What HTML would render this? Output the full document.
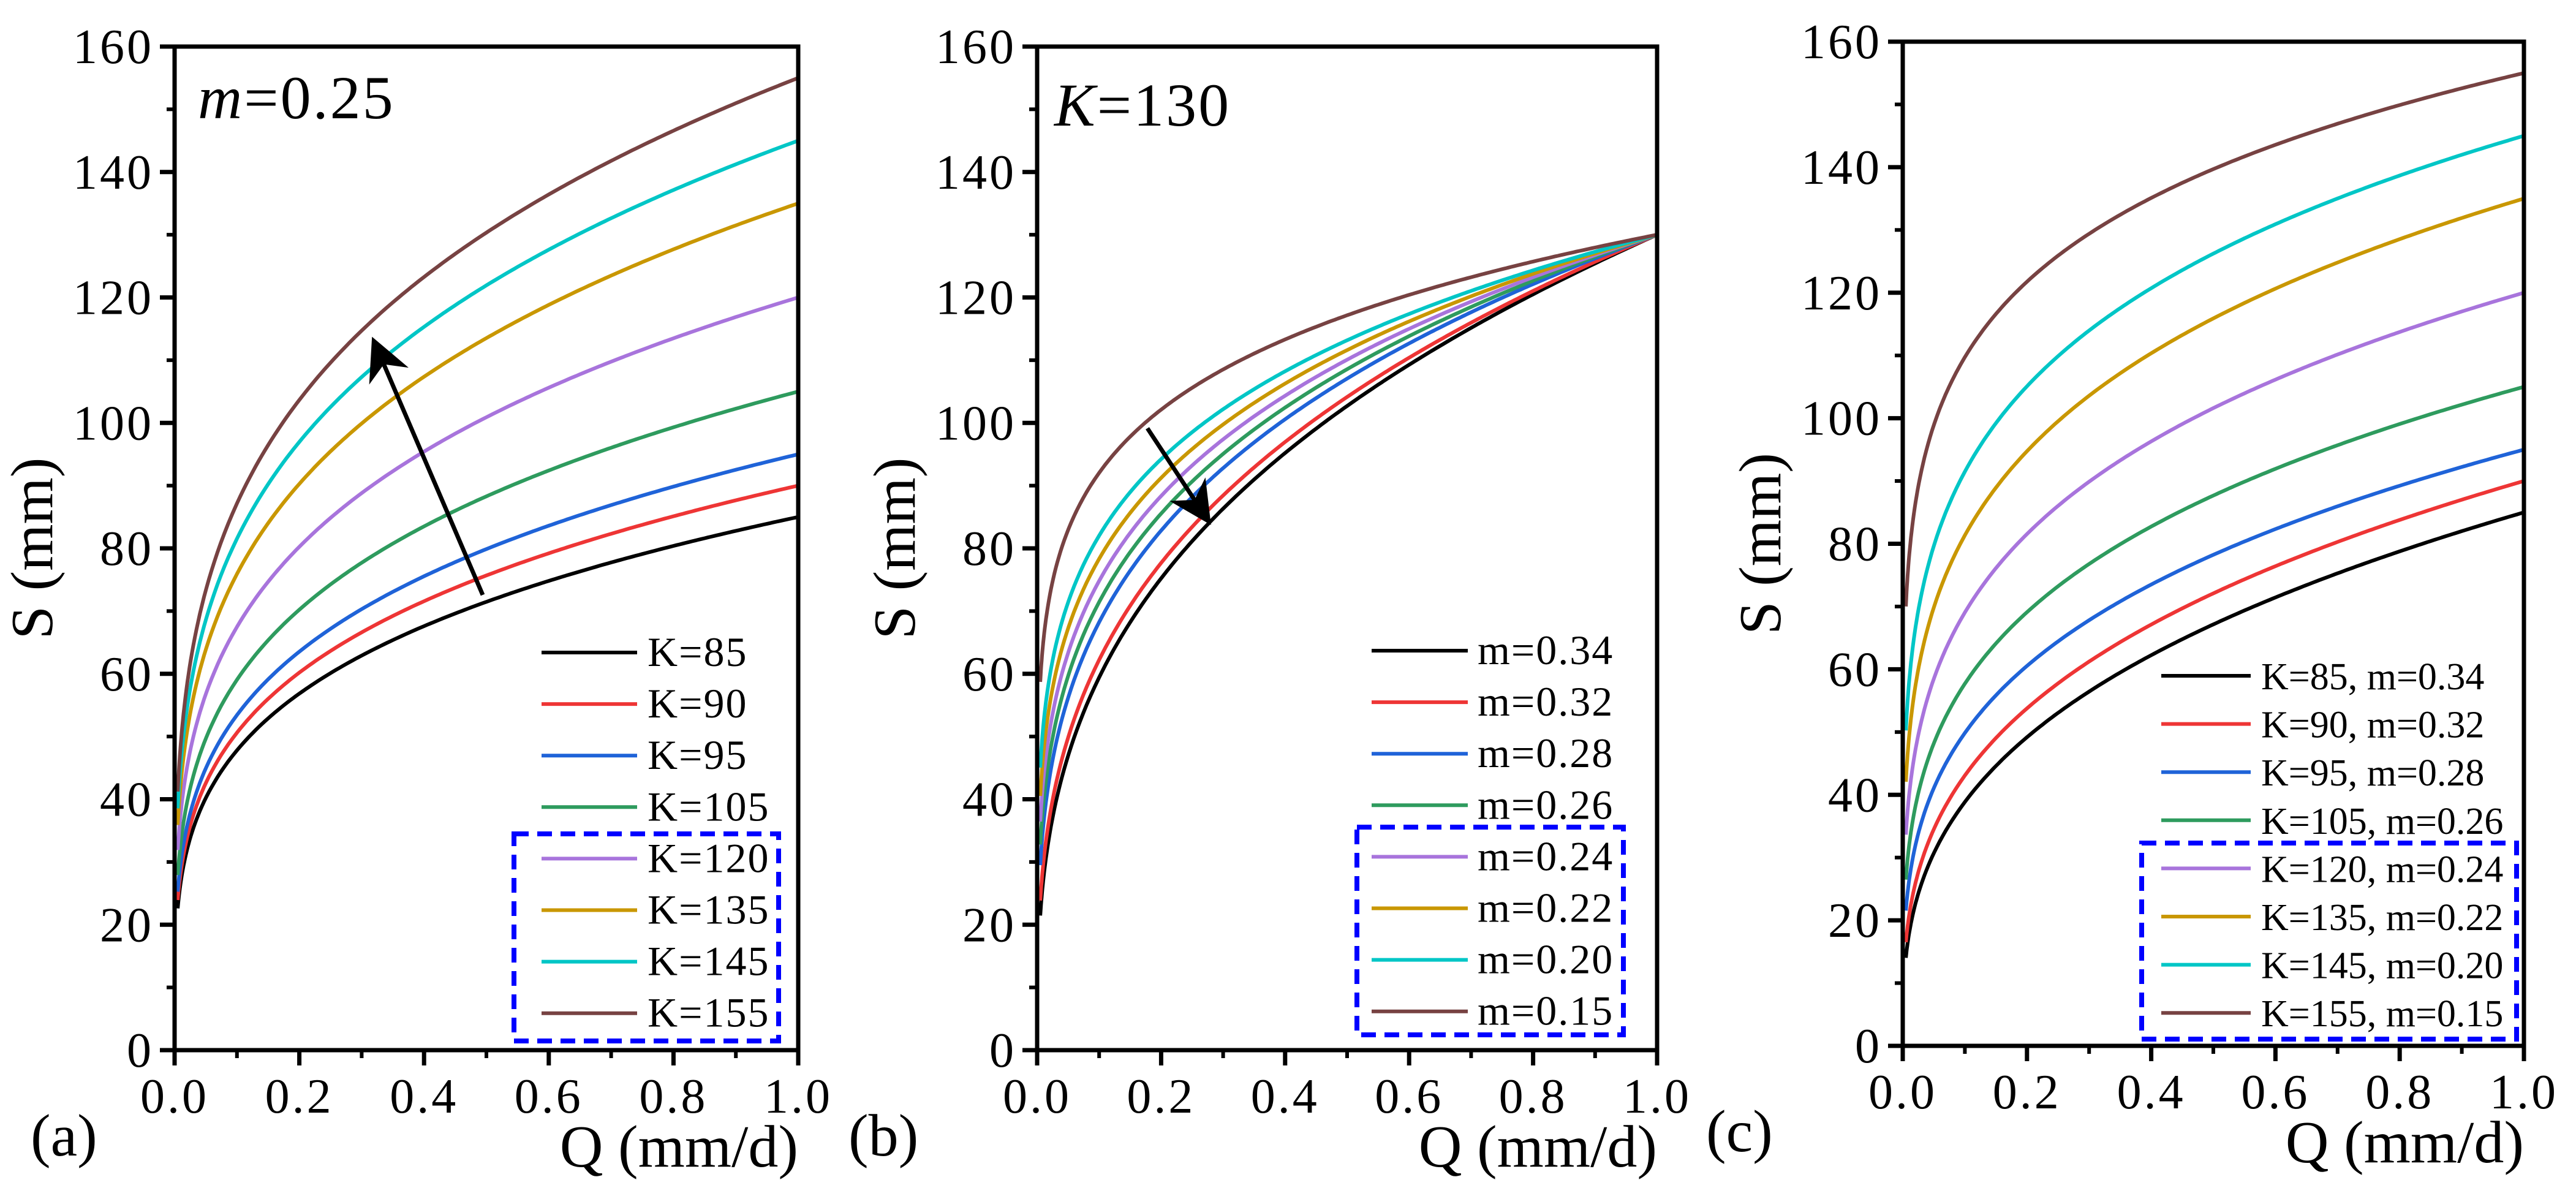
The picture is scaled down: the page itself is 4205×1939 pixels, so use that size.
<!DOCTYPE html>
<html><head><meta charset="utf-8">
<style>
html,body{margin:0;padding:0;background:#fff;}
svg{display:block;}
svg text{font-family:"Liberation Serif","Times New Roman",serif;fill:#000;}
</style></head>
<body>
<svg id="fig" width="4205" height="1939" viewBox="0 0 4205 1939" xmlns="http://www.w3.org/2000/svg" font-family="Liberation Serif, serif"></svg>
<script>
// ---- data ----
const colors = ["#000000","#ee3535","#1f63d8","#2e9b5e","#a874dc","#c99700","#00c6c6","#774242"];
const kA = [85,90,95,105,120,135,145,155];
const mA = [0.25,0.25,0.25,0.25,0.25,0.25,0.25,0.25];
const kB = [130,130,130,130,130,130,130,130];
const mB = [0.34,0.32,0.28,0.26,0.24,0.22,0.20,0.15];
const kC = [85,90,95,105,120,135,145,155];
const mC = [0.34,0.32,0.28,0.26,0.24,0.22,0.20,0.15];
const labelsA = ["K=85","K=90","K=95","K=105","K=120","K=135","K=145","K=155"];
const labelsB = ["m=0.34","m=0.32","m=0.28","m=0.26","m=0.24","m=0.22","m=0.20","m=0.15"];
const labelsC = ["K=85, m=0.34","K=90, m=0.32","K=95, m=0.28","K=105, m=0.26","K=120, m=0.24","K=135, m=0.22","K=145, m=0.20","K=155, m=0.15"];
const xTicks = [0,0.2,0.4,0.6,0.8,1.0];
const xTickLabels = ["0.0","0.2","0.4","0.6","0.8","1.0"];
const yTicks = [0,20,40,60,80,100,120,140,160];
const qStart = 0.005;

const NS="http://www.w3.org/2000/svg";
const svg=document.getElementById('fig');
const FF='"Liberation Serif", "Times New Roman", serif';
function mk(tag,attrs,parent){const e=document.createElementNS(NS,tag);for(const k in attrs)e.setAttribute(k,attrs[k]);if(tag==='text'){e.setAttribute('font-family',FF);e.style.fontFamily=FF;}(parent||svg).appendChild(e);return e;}

function panel(cfg){
  const g=mk('g',{});
  
  
  const L=cfg.L,R=cfg.R,T=cfg.T,B=cfg.B;
  const xs=v=>L+(R-L)*v/1.0;
  const ys=v=>B-(B-T)*v/160;
  const cg=mk('g',{},g);
  
  
  for(let i=0;i<cfg.K.length;i++){
    const qs=[];
    for(let j=0;j<=40;j++){qs.push(qStart*Math.pow(0.1/qStart,j/40));}
    for(let j=1;j<=180;j++){qs.push(0.1+0.9*j/180);}
    let d='';
    qs.forEach((q,n)=>{const s=cfg.K[i]*Math.pow(q,cfg.m[i]);d+=(n?'L':'M')+xs(q).toFixed(1)+' '+ys(s).toFixed(1);});
    const p=mk('path',{d:d,fill:'none',stroke:colors[i],'stroke-width':6,'stroke-linejoin':'round'},cg);
    
    
  }
  const fr=mk('rect',{x:L,y:T,width:R-L,height:B-T,fill:'none',stroke:'#000','stroke-width':7},g);
  
  
  yTicks.forEach(v=>{
    mk('line',{x1:L-24,x2:L,y1:ys(v),y2:ys(v),stroke:'#000','stroke-width':7},g);
    const t=mk('text',{x:L-34,y:ys(v)+27,'text-anchor':'end','font-size':80,'letter-spacing':4},g);
    t.textContent=v;
    
    
    if(v<160) mk('line',{x1:L-13,x2:L,y1:ys(v+10),y2:ys(v+10),stroke:'#000','stroke-width':6},g);
  });
  xTicks.forEach((v,i)=>{
    mk('line',{x1:xs(v),x2:xs(v),y1:B,y2:B+25,stroke:'#000','stroke-width':7},g);
    const t=mk('text',{x:xs(v),y:B+102,'text-anchor':'middle','font-size':80,'letter-spacing':4},g);
    t.textContent=xTickLabels[i];
    
    
    if(v<1) mk('line',{x1:xs(v+0.1),x2:xs(v+0.1),y1:B,y2:B+13,stroke:'#000','stroke-width':6},g);
  });
  const yt=mk('text',{x:0,y:0,'text-anchor':'middle','font-size':98,transform:`translate(${L-200},${(T+B)/2}) rotate(-90)`},g);
  yt.textContent='S (mm)';
  
  
  const xt=mk('text',{x:R,y:B+190,'text-anchor':'end','font-size':98},g);
  xt.textContent='Q (mm/d)';
  
  
  const pl=mk('text',{x:cfg.pl,y:B+172,'font-size':98},g);
  pl.textContent=cfg.plabel;
  
  
  const lg=mk('g',{},g);
  
  
  cfg.labels.forEach((lab,i)=>{
    const y=cfg.ly0+cfg.ldy*i;
    mk('line',{x1:cfg.lx1,x2:cfg.lx2,y1:y,y2:y,stroke:colors[i],'stroke-width':6},lg);
    const t=mk('text',{x:cfg.tx,y:y+22,'font-size':cfg.lfs,'letter-spacing':cfg.ls},lg);
    t.textContent=lab;
    
    
  });
  const bx=mk('rect',{x:cfg.box[0],y:cfg.box[1],width:cfg.box[2]-cfg.box[0],height:cfg.box[3]-cfg.box[1],fill:'none',stroke:'#0000ff','stroke-width':8,'stroke-dasharray':'24 14'},g);
  
  
  return {g,xs,ys};
}

const defs=mk('defs',{});
const mkr=mk('marker',{id:'ah',markerWidth:70,markerHeight:70,refX:9,refY:5,orient:'auto',markerUnits:'userSpaceOnUse',viewBox:'0 0 10 10'},defs);
mk('path',{d:'M0 0 L10 5 L0 10 L3 5 Z',fill:'#000'},mkr);

panel({name:'panel-a',L:285,R:1303,T:76,B:1714,labels:labelsA,K:kA,m:mA,plabel:'(a)',pl:50,
  lx1:884,lx2:1040,tx:1057,ly0:1065,ldy:84.1,lfs:68,ls:2,box:[839,1361,1271,1699]});
panel({name:'panel-b',L:1693,R:2705,T:76,B:1714,labels:labelsB,K:kB,m:mB,plabel:'(b)',pl:1385,
  lx1:2239,lx2:2396,tx:2412,ly0:1062,ldy:84.1,lfs:68,ls:2,box:[2215,1350,2650,1689]});
panel({name:'panel-c',L:3106,R:4120,T:68,B:1707,labels:labelsC,K:kC,m:mC,plabel:'(c)',pl:2785,
  lx1:3528,lx2:3674,tx:3691,ly0:1103,ldy:78.6,lfs:62,ls:0,box:[3496,1376,4108,1696]});

function ann(x,y,html,name,size){const t=mk('text',{x:x,y:y,'font-size':size,'letter-spacing':3});t.innerHTML=html;}
ann(323,193,'<tspan font-style="italic">m</tspan>=0.25','param-annotation-a',100);
ann(1721,205,'<tspan font-style="italic">K</tspan>=130','param-annotation-b',100);
const ar1=mk('line',{x1:788,y1:971,x2:610,y2:556,stroke:'#000','stroke-width':7,'marker-end':'url(#ah)'});


const ar2=mk('line',{x1:1873,y1:699,x2:1973,y2:851,stroke:'#000','stroke-width':7,'marker-end':'url(#ah)'});


</script>
</body></html>
